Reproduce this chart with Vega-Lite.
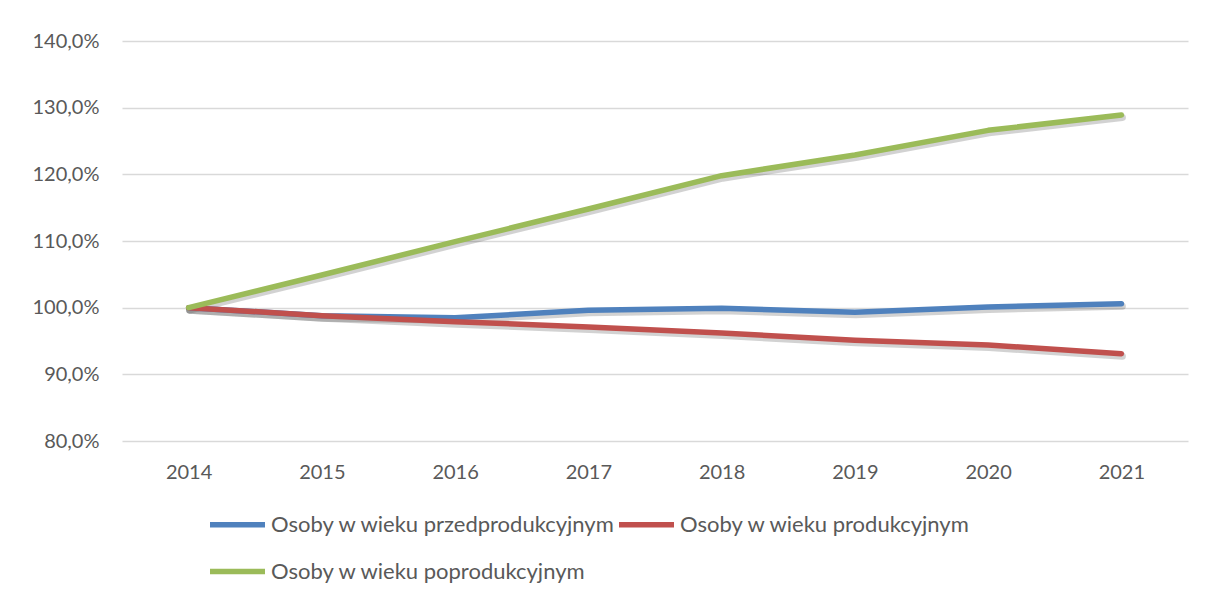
{
  "$schema": "https://vega.github.io/schema/vega-lite/v6.json",
  "width": 1066,
  "height": 400,
  "autosize": {"type": "none"},
  "padding": {"left": 122, "top": 41, "right": 18, "bottom": 154},
  "background": "white",
  "config": {
    "view": {"stroke": null},
    "font": "Lato"
  },
  "data": {
    "values": [
      {"rok": "2014", "grupa": "Osoby w wieku przedprodukcyjnym", "v": 100.0},
      {"rok": "2015", "grupa": "Osoby w wieku przedprodukcyjnym", "v": 98.8},
      {"rok": "2016", "grupa": "Osoby w wieku przedprodukcyjnym", "v": 98.5},
      {"rok": "2017", "grupa": "Osoby w wieku przedprodukcyjnym", "v": 99.6},
      {"rok": "2018", "grupa": "Osoby w wieku przedprodukcyjnym", "v": 99.9},
      {"rok": "2019", "grupa": "Osoby w wieku przedprodukcyjnym", "v": 99.3},
      {"rok": "2020", "grupa": "Osoby w wieku przedprodukcyjnym", "v": 100.1},
      {"rok": "2021", "grupa": "Osoby w wieku przedprodukcyjnym", "v": 100.6},
      {"rok": "2014", "grupa": "Osoby w wieku produkcyjnym", "v": 100.0},
      {"rok": "2015", "grupa": "Osoby w wieku produkcyjnym", "v": 98.8},
      {"rok": "2016", "grupa": "Osoby w wieku produkcyjnym", "v": 97.9},
      {"rok": "2017", "grupa": "Osoby w wieku produkcyjnym", "v": 97.1},
      {"rok": "2018", "grupa": "Osoby w wieku produkcyjnym", "v": 96.2},
      {"rok": "2019", "grupa": "Osoby w wieku produkcyjnym", "v": 95.1},
      {"rok": "2020", "grupa": "Osoby w wieku produkcyjnym", "v": 94.4},
      {"rok": "2021", "grupa": "Osoby w wieku produkcyjnym", "v": 93.1},
      {"rok": "2014", "grupa": "Osoby w wieku poprodukcyjnym", "v": 100.0},
      {"rok": "2015", "grupa": "Osoby w wieku poprodukcyjnym", "v": 104.9},
      {"rok": "2016", "grupa": "Osoby w wieku poprodukcyjnym", "v": 109.9},
      {"rok": "2017", "grupa": "Osoby w wieku poprodukcyjnym", "v": 114.8},
      {"rok": "2018", "grupa": "Osoby w wieku poprodukcyjnym", "v": 119.8},
      {"rok": "2019", "grupa": "Osoby w wieku poprodukcyjnym", "v": 122.9},
      {"rok": "2020", "grupa": "Osoby w wieku poprodukcyjnym", "v": 126.6},
      {"rok": "2021", "grupa": "Osoby w wieku poprodukcyjnym", "v": 128.9}
    ]
  },
  "encoding": {
    "x": {
      "field": "rok", "type": "ordinal",
      "scale": {"type": "point", "padding": 0.5},
      "axis": {
        "title": null, "labelAngle": 0, "domain": false, "ticks": false,
        "labelPadding": 21, "labelFontSize": 20, "labelColor": "#595959", "grid": false
      }
    },
    "y": {
      "field": "v", "type": "quantitative",
      "scale": {"domain": [80, 140], "nice": false, "zero": false},
      "axis": {
        "title": null, "values": [80, 90, 100, 110, 120, 130, 140],
        "labelExpr": "replace(format(datum.value, '.1f'), '.', ',') + '%'",
        "domain": false, "ticks": false, "labelPadding": 23,
        "labelFontSize": 20, "labelColor": "#595959",
        "grid": true, "gridColor": "#D9D9D9", "gridWidth": 1.5
      }
    }
  },
  "layer": [
    {
      "mark": {"type": "line", "strokeWidth": 7, "strokeCap": "round", "strokeJoin": "round", "opacity": 0.22, "color": "#333333", "yOffset": 2.5, "xOffset": 1},
      "encoding": {"detail": {"field": "grupa"}}
    },
    {
      "mark": {"type": "line", "strokeWidth": 5.5, "strokeCap": "round", "strokeJoin": "round"},
      "encoding": {
        "color": {
          "field": "grupa", "type": "nominal",
          "scale": {
            "domain": ["Osoby w wieku przedprodukcyjnym", "Osoby w wieku produkcyjnym", "Osoby w wieku poprodukcyjnym"],
            "range": ["#4F81BD", "#C0504D", "#9BBB59"]
          },
          "legend": {
            "title": null, "orient": "none", "legendX": 85, "legendY": 453,
            "direction": "horizontal", "columns": 2,
            "symbolType": "stroke", "symbolSize": 3025, "symbolStrokeWidth": 5.5,
            "labelFontSize": 22, "labelColor": "#595959", "labelOffset": 3,
            "columnPadding": -8, "rowPadding": 5, "labelLimit": 600
          }
        }
      }
    }
  ]
}
